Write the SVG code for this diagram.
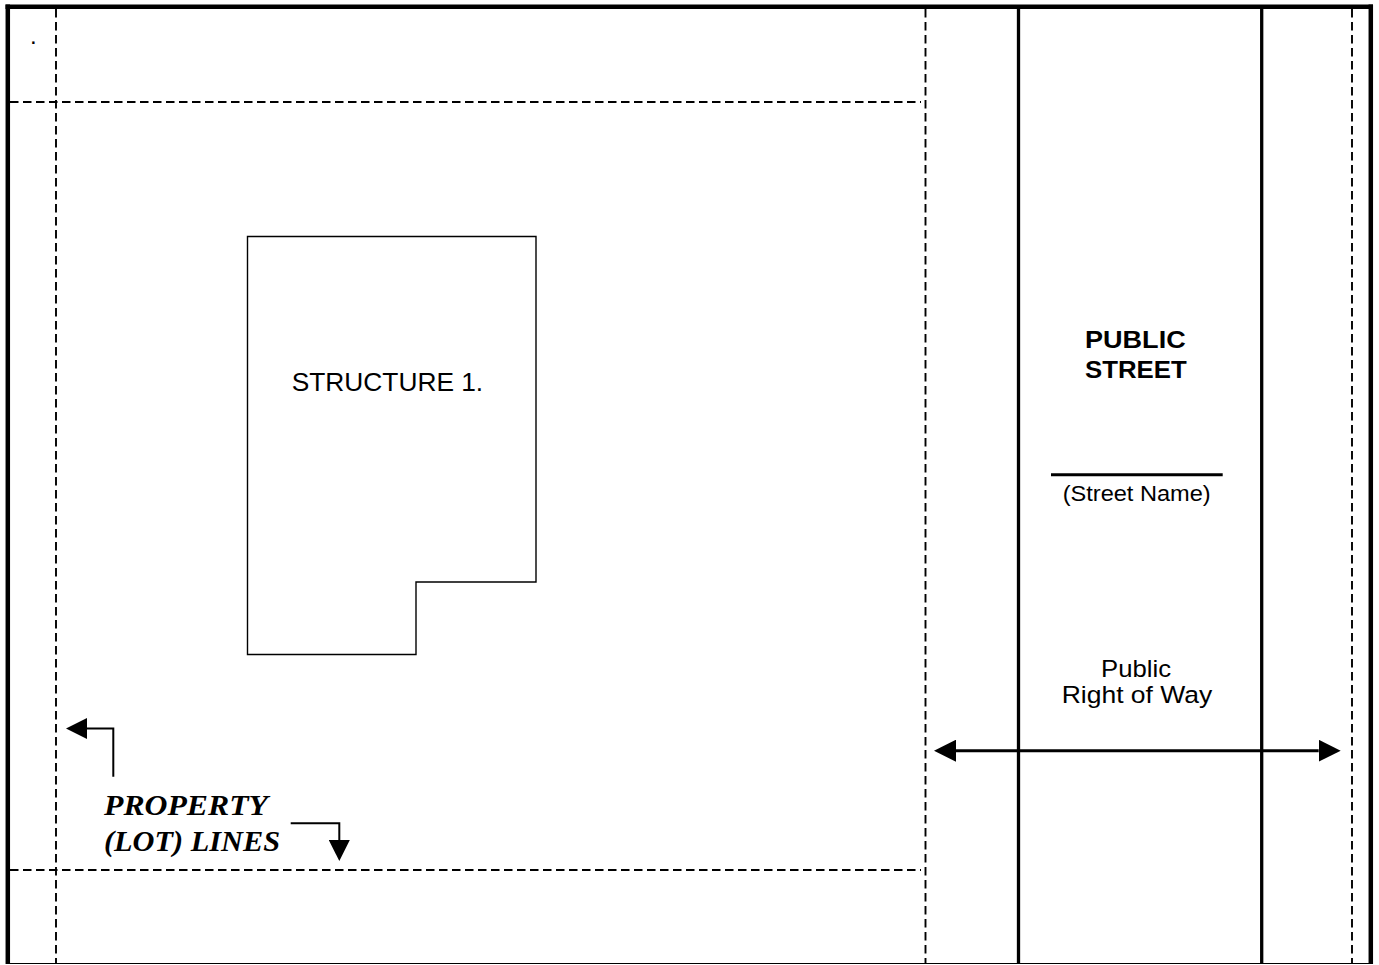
<svg xmlns="http://www.w3.org/2000/svg" width="1379" height="965" viewBox="0 0 1379 965">
  <style>
    .frame { stroke: #000; stroke-width: 4.5; fill: none; }
    .street { stroke: #000; stroke-width: 3.3; fill: none; }
    .lot { stroke: #000; stroke-width: 1.9; stroke-dasharray: 8.5 4.5; fill: none; }
    .struct { stroke: #000; stroke-width: 1.4; fill: #fff; }
    .sans { font-family: "Liberation Sans", Arial, sans-serif; fill: #000; }
    .bold { font-weight: bold; }
    .serif { font-family: "Liberation Serif", "Times New Roman", serif; font-weight: bold; font-style: italic; fill: #000; }
    .conn { stroke: #000; fill: none; }
  </style>
  <defs>
    <marker id="head" viewBox="0 0 22 22" refX="0" refY="11" markerWidth="22" markerHeight="22" markerUnits="userSpaceOnUse" orient="auto-start-reverse">
      <path d="M0,0 L22,11 L0,22 z" fill="#000"/>
    </marker>
    <marker id="headS" viewBox="0 0 21 21" refX="0" refY="10.5" markerWidth="21" markerHeight="21" markerUnits="userSpaceOnUse" orient="auto">
      <path d="M0,0 L21,10.5 L0,21 z" fill="#000"/>
    </marker>
  </defs>
  <rect width="1379" height="965" fill="#fff"/>

  <g id="frame">
    <line class="frame" x1="5.5" y1="6.7" x2="1373" y2="6.7"/>
    <line class="frame" x1="7.8" y1="4.5" x2="7.8" y2="964"/>
    <line class="frame" x1="1370.8" y1="4.5" x2="1370.8" y2="964"/>
    <line x1="7" y1="963.5" x2="1371" y2="963.5" stroke="#000" stroke-width="1"/>
  </g>

  <g id="lot-lines">
    <line class="lot" x1="56" y1="9" x2="56" y2="964"/>
    <line class="lot" x1="925.5" y1="9" x2="925.5" y2="964"/>
    <line class="lot" x1="1352" y1="9" x2="1352" y2="964"/>
    <line class="lot" x1="10" y1="102" x2="921" y2="102"/>
    <line class="lot" x1="10" y1="870" x2="921" y2="870"/>
  </g>

  <g id="street">
    <line class="street" x1="1018.5" y1="9" x2="1018.5" y2="964"/>
    <line class="street" x1="1261.7" y1="9" x2="1261.7" y2="964"/>
    <text class="sans bold" x="1085" y="347.7" font-size="24.5" textLength="100.7" lengthAdjust="spacingAndGlyphs">PUBLIC</text>
    <text class="sans bold" x="1085" y="378.3" font-size="24.5" textLength="101.7" lengthAdjust="spacingAndGlyphs">STREET</text>
    <line x1="1051" y1="474.7" x2="1222.7" y2="474.7" stroke="#000" stroke-width="3"/>
    <text class="sans" x="1062.7" y="500.5" font-size="22.5" textLength="148" lengthAdjust="spacingAndGlyphs">(Street Name)</text>
    <text class="sans" x="1101" y="677.3" font-size="24.5" textLength="70" lengthAdjust="spacingAndGlyphs">Public</text>
    <text class="sans" x="1061.7" y="703.3" font-size="24.5" textLength="150.6" lengthAdjust="spacingAndGlyphs">Right of Way</text>
  </g>

  <g id="structure-1">
    <polygon class="struct" points="247.5,236.5 536,236.5 536,582 416,582 416,654.5 247.5,654.5"/>
    <text class="sans" x="291.7" y="390.7" font-size="25" textLength="191.5" lengthAdjust="spacingAndGlyphs">STRUCTURE 1.</text>
  </g>

  <g id="property-label">
    <text class="serif" x="104" y="815" font-size="30" textLength="164" lengthAdjust="spacingAndGlyphs">PROPERTY</text>
    <text class="serif" x="104" y="851" font-size="30" textLength="176" lengthAdjust="spacingAndGlyphs">(LOT) LINES</text>
  </g>

  <g id="dot">
    <text class="sans" x="30" y="43.5" font-size="24">.</text>
  </g>

  <g id="connectors">
    <path class="conn" stroke-width="2" d="M113.3,776.7 V728.5 H87" marker-end="url(#headS)"/>
    <path class="conn" stroke-width="2" d="M290.7,823.3 H339.3 V840" marker-end="url(#headS)"/>
    <line class="conn" stroke-width="3" x1="956" y1="750.7" x2="1318.7" y2="750.7" marker-start="url(#head)" marker-end="url(#head)"/>
  </g>
</svg>
